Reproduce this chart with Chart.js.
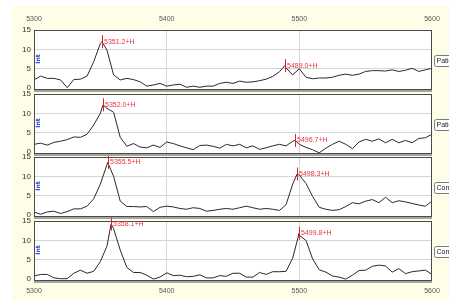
<!DOCTYPE html>
<html>
<head>
<meta charset="utf-8">
<script src="https://cdn.jsdelivr.net/npm/chart.js@4.4.1/dist/chart.umd.min.js"></script>
<style>
  body { margin: 0; background: #fff; }
  #wrap { position: relative; width: 449px; height: 300px; overflow: hidden; }
  #bg { position: absolute; left: 12px; top: 6px; right: 0; bottom: 0; background: #fefee8; }
  canvas { position: absolute; left: 0; top: 0; }
</style>
</head>
<body>
<div id="wrap">
  <div id="bg"></div>
  <canvas id="p0" width="449" height="300"></canvas>
  <canvas id="p1" width="449" height="300"></canvas>
  <canvas id="p2" width="449" height="300"></canvas>
  <canvas id="p3" width="449" height="300"></canvas>
</div>
<script>
// m/z grid shared by the four spectra
const mz = [5300, 5305, 5310, 5315, 5320, 5325, 5330, 5335, 5340, 5345,
  5350, 5355, 5360, 5365, 5370, 5375, 5380, 5385, 5390, 5395,
  5400, 5405, 5410, 5415, 5420, 5425, 5430, 5435, 5440, 5445,
  5450, 5455, 5460, 5465, 5470, 5475, 5480, 5485, 5490, 5495,
  5500, 5505, 5510, 5515, 5520, 5525, 5530, 5535, 5540, 5545,
  5550, 5555, 5560, 5565, 5570, 5575, 5580, 5585, 5590, 5595, 5600];

const patient1 = [2.1, 3.1, 2.5, 2.5, 2.1, 0.1, 2.2, 2.3, 3.1, 6.8,
  11.5, 9.8, 3.4, 2.1, 2.5, 2.2, 1.6, 0.5, 0.8, 1.2,
  0.5, 0.8, 1.0, 0.2, 0.5, 0.2, 0.5, 0.5, 1.2, 1.5,
  1.2, 1.8, 1.5, 1.6, 1.9, 2.3, 3.0, 4.2, 5.2, 3.4,
  5.0, 2.8, 2.4, 2.6, 2.6, 2.8, 3.3, 3.6, 3.3, 3.6,
  4.3, 4.5, 4.5, 4.4, 4.7, 4.3, 4.6, 5.1, 4.3, 4.7, 5.1];

const patient2 = [2.0, 2.3, 1.8, 2.5, 2.8, 3.2, 3.9, 3.8, 4.6, 7.0,
  10.0, 11.3, 10.3, 3.8, 1.5, 2.2, 1.3, 1.1, 1.8, 1.2,
  2.6, 2.2, 1.6, 1.1, 0.6, 1.7, 1.8, 1.5, 1.0, 2.0,
  1.6, 2.0, 1.1, 1.6, 0.7, 1.1, 1.6, 2.0, 1.6, 2.8,
  2.0, 1.2, 0.6, -0.2, 1.0, 2.0, 2.8, 2.0, 0.9, 2.6,
  3.3, 2.8, 3.4, 2.4, 3.3, 2.4, 3.0, 2.4, 3.5, 3.7, 4.6];

const control1 = [0.8, 0.2, 0.8, 1.0, 0.4, 0.9, 1.6, 1.6, 2.3, 4.2,
  8.0, 13.0, 10.0, 3.6, 2.2, 2.2, 2.1, 2.2, 0.9, 2.0,
  2.3, 2.1, 1.7, 1.5, 1.9, 1.7, 1.0, 1.2, 1.5, 1.7,
  1.5, 1.9, 2.3, 1.9, 1.5, 1.7, 1.5, 1.2, 2.7, 8.0,
  10.3, 8.2, 4.8, 2.0, 1.5, 1.2, 1.4, 2.2, 3.2, 2.9,
  3.6, 4.0, 3.2, 4.6, 3.2, 3.7, 3.4, 3.0, 2.6, 2.3, 3.6];

const control2 = [0.8, 1.2, 1.2, 0.3, 0.1, 0.1, 1.5, 2.3, 1.5, 2.0,
  4.5, 8.5, 13.0, 7.5, 3.0, 1.7, 1.7, 1.0, 0.0, 0.5,
  1.6, 0.9, 1.0, 0.6, 0.7, 1.1, 0.3, 0.3, 0.9, 0.7,
  1.5, 1.5, 0.5, 0.5, 1.7, 1.2, 1.9, 1.9, 2.0, 5.4,
  11.3, 10.0, 5.2, 2.4, 1.8, 0.8, 0.5, 0.0, 1.0, 2.2,
  2.3, 3.3, 3.6, 3.4, 1.8, 2.7, 1.4, 1.9, 2.1, 2.3, 1.2];

const sampleNames = ['Patient 1', 'Patient 2', 'Control 1', 'Control 2'];
const spectra = [patient1, patient2, control1, control2];

// labelled peaks (m/z) and their apex intensity, per spectrum
const peakMz = [[5351.2, 5489.0], [5352.0, 5496.7], [5355.5, 5498.3], [5358.1, 5499.8]];
const peakApex = [[12.0, 5.8], [12.2, 3.0], [13.6, 10.6], [14.2, 11.8]];

const xTicks = [5300, 5400, 5500, 5600];
const yTicks = [0, 5, 10, 15];

const panelTops = [30, 94, 157, 221];
const panelHeight = 60;

Chart.defaults.font.family = "'Liberation Sans', Arial, sans-serif";

function buildPoints(values, peaks, apex) {
  var pts = values.map((v, k) => ({ x: mz[k], y: v }))
  peaks.forEach((m, k) => pts.push({ x: m, y: apex[k] }))
  pts.sort((a, b) => a.x - b.x)
  return pts
}

var panelFrame = {
  id: 'panelFrame',
  beforeDraw(chart) {
    var a = chart.chartArea, ctx = chart.ctx
    ctx.save()
    ctx.fillStyle = '#ffffff'
    ctx.fillRect(a.left, a.top, a.right - a.left, a.bottom - a.top)
    ctx.restore()
  },
  afterDatasetsDraw(chart, args, opts) {
    var a = chart.chartArea, ctx = chart.ctx, i = opts.index
    var xs = chart.scales.x, ys = chart.scales.y
    ctx.save()
    // frame + grey bottom band
    ctx.fillStyle = '#a4a4a4'
    ctx.fillRect(a.left, a.bottom - 1, a.right - a.left, 3)
    ctx.strokeStyle = '#4a4a4a'
    ctx.lineWidth = 1
    ctx.strokeRect(a.left + 0.5, a.top + 0.5, a.right - a.left - 1, a.bottom - a.top - 1)

    // peak markers
    peakMz[i].forEach(function(m, k) {
      var px = Math.round(xs.getPixelForValue(m)) + 0.5
      var py = ys.getPixelForValue(peakApex[i][k])
      ctx.strokeStyle = '#e0202a'
      ctx.beginPath()
      ctx.moveTo(px, py - 6.5)
      ctx.lineTo(px, py + 6.5)
      ctx.stroke()
      ctx.fillStyle = '#e8343e'
      ctx.font = "7px 'Liberation Sans', Arial"
      ctx.textAlign = 'left'
      ctx.textBaseline = 'middle'
      ctx.fillText(m.toFixed(1) + '+H', px + 1.5, py)
    })

    // little rotated axis title inside the plot
    ctx.translate(a.left + 4, a.top + 29)
    ctx.rotate(-Math.PI / 2)
    ctx.fillStyle = '#1f3fd6'
    ctx.font = "bold 6px 'DejaVu Sans', Arial"
    ctx.textAlign = 'center'
    ctx.textBaseline = 'middle'
    ctx.fillText('Int', 0, 0)
    ctx.setTransform(1, 0, 0, 1, 0, 0)

    // sample name tag on the right, cut by the page edge
    var cy = a.top + 31
    ctx.fillStyle = '#ffffff'
    ctx.strokeStyle = '#7a7a7a'
    ctx.beginPath()
    ctx.roundRect(434.5, cy - 5.5, 34, 11, 2)
    ctx.fill()
    ctx.stroke()
    ctx.fillStyle = '#222'
    ctx.font = "7px 'Liberation Sans', Arial"
    ctx.textAlign = 'left'
    ctx.textBaseline = 'middle'
    ctx.fillText(sampleNames[i], 436.5, cy)
    ctx.restore()
  }
}

function panelConfig(i) {
  var top = panelTops[i]
  var first = i == 0
  var last = i == panelTops.length - 1
  var axisH = first ? 22 : (last ? 16 : 0)
  var bottomPad = 300 - (top + panelHeight) - (last ? axisH : 0)

  return {
    type: 'line',
    data: {
      datasets: [{
        label: sampleNames[i],
        data: buildPoints(spectra[i], peakMz[i], peakApex[i]),
        borderColor: '#2a2a2a',
        borderWidth: 1,
        pointRadius: 0,
        tension: 0,
        fill: false
      }]
    },
    options: {
      responsive: false,
      animation: false,
      devicePixelRatio: 1,
      events: [],
      layout: { padding: { left: 0, right: 17, top: first ? top - axisH : top, bottom: bottomPad } },
      plugins: {
        legend: { display: false },
        tooltip: { enabled: false },
        panelFrame: { index: i }
      },
      scales: {
        x: {
          type: 'linear',
          position: first ? 'top' : 'bottom',
          min: 5300,
          max: 5600,
          afterFit: s => { s.height = axisH },
          afterBuildTicks: s => { s.ticks = xTicks.map(v => ({ value: v })) },
          ticks: {
            display: first || last,
            padding: first ? 7 : 6,
            color: '#555',
            font: { size: 7 },
            maxRotation: 0,
            callback: v => String(v)
          },
          grid: {
            drawTicks: false,
            color: c => (c.tick && (c.tick.value == 5400 || c.tick.value == 5500)) ? '#d6d6d6' : 'rgba(0,0,0,0)'
          },
          border: { display: false }
        },
        y: {
          min: -0.5,
          max: 15,
          afterFit: s => { s.width = 34 },
          afterBuildTicks: s => { s.ticks = yTicks.map(v => ({ value: v })) },
          ticks: {
            padding: 3,
            color: '#333',
            font: { size: 8 },
            callback: v => String(v)
          },
          grid: {
            drawTicks: false,
            color: c => (c.tick && (c.tick.value == 5 || c.tick.value == 10)) ? '#d4d4d4' : 'rgba(0,0,0,0)'
          },
          border: { display: false }
        }
      }
    },
    plugins: [panelFrame]
  }
}

var charts = []
for (let i = 0; i < spectra.length; i++) {
  var ctx = document.getElementById('p' + i).getContext('2d')
  charts.push(new Chart(ctx, panelConfig(i)))
}
</script>
</body>
</html>
